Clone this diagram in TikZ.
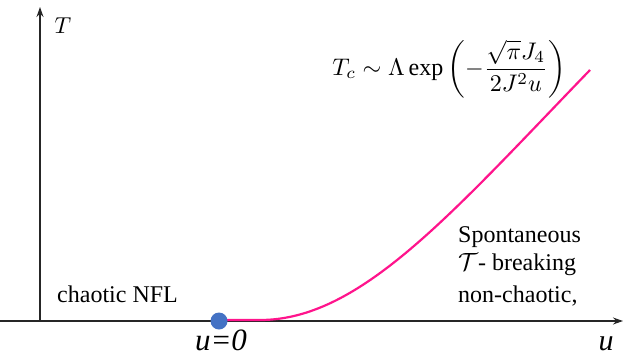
\documentclass[tikz,border=0pt]{standalone}
\usepackage{amsmath}
\usepackage{fontspec}
\setmainfont{Liberation Serif}
\usetikzlibrary{arrows.meta}
\definecolor{curvepink}{RGB}{255,20,140}
\definecolor{dotblue}{RGB}{68,114,196}
\tikzset{
  axis/.style={line width=1.3pt, draw=black!85, -{Stealth[length=10pt,width=7pt]}},
  phase/.style={font=\fontsize{24}{28}\selectfont, anchor=base west, inner sep=0pt}
}

\begin{document}
\begin{tikzpicture}[x=1pt,y=-1pt]
        \useasboundingbox (0,0) rectangle (628,356);
        % Axes
        \coordinate (xstart) at (0,321);
        \coordinate (origin) at (40,321);
        \coordinate (xend) at (623,321);
        \coordinate (yend) at (40,7);
        \draw[axis] (xstart) -- (xend);
        \draw[axis] (origin) -- (yend);
        \node[scale=2.3, inner sep=0pt] (tlabel) at (63,26) {$T$};
        \node[font=\fontsize{30}{34}\selectfont\itshape, anchor=base, inner sep=0pt] (ulabel) at (606,350) {u};
        % Critical curve
        \coordinate (flat) at (260,320);
        \coordinate (curveend) at (590,70);
        \draw[curvepink, line width=2.2pt] (219,320) -- (flat) .. controls (360,320) and (450,215) .. (curveend);
        \node[circle, fill=dotblue, inner sep=0pt, minimum size=17pt] (dot) at (219,321) {};
        \node[font=\fontsize{31}{35}\selectfont\itshape, anchor=base, inner sep=0pt] (ucrit) at (221,350) {u=0};
        % Formula
        \node[scale=2.4, inner sep=0pt] (formula) at (449,69) {$\displaystyle T_c \sim \Lambda \exp\left(-\frac{\sqrt{\pi}J_4}{2J^2u}\right)$};
        % Phases
        \node[phase] (nfl) at (57,302) {chaotic NFL};
        \node[phase] (spont) at (458,242) {Spontaneous};
        \node[phase] (break) at (458,270) {$\mathcal{T}$- breaking};
        \node[phase] (nonchaos) at (458,302) {non-chaotic,};
\end{tikzpicture}
\end{document}
